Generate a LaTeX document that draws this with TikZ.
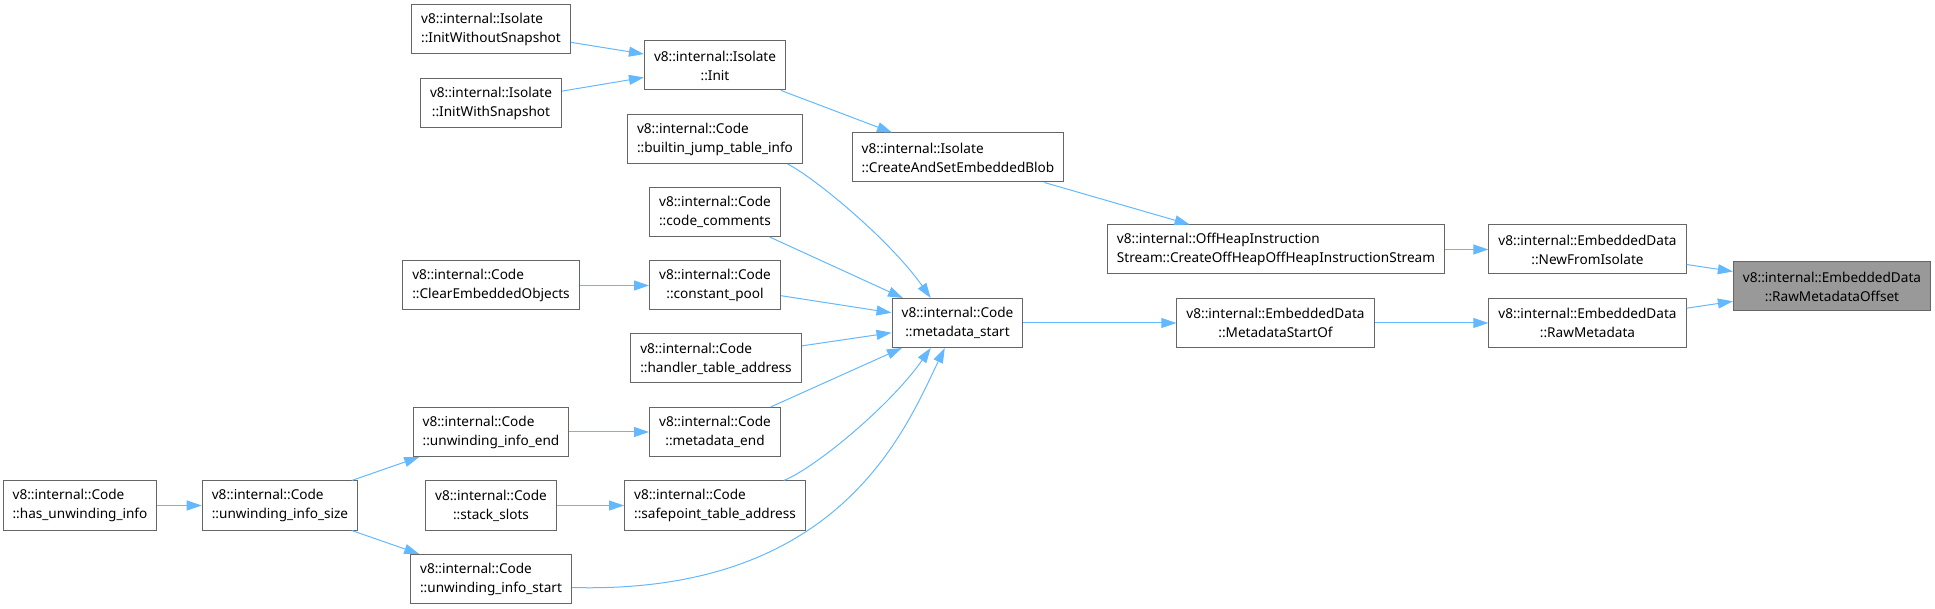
\documentclass[tikz,border=0pt]{standalone}
\usepackage{fontspec}
\setmainfont{Noto Sans}
\usetikzlibrary{arrows.meta}
\definecolor{edgeblue}{HTML}{63B8FF}
\definecolor{boxgray}{HTML}{666666}
\definecolor{focusgray}{HTML}{999999}

\begin{document}
\begin{tikzpicture}[x=0.5pt, y=-0.5pt,
    func/.style={draw=boxgray, fill=white, line width=0.5pt, rectangle,
                 minimum height=24.5pt, inner xsep=4.8pt, inner ysep=0pt,
                 font=\fontsize{6.8}{9.5}\selectfont},
    funcl/.style={func, align=left},
    funcc/.style={func, align=center},
    focus/.style={funcc, fill=focusgray},
    call/.style={draw=edgeblue, line width=0.5pt,
                 -{Triangle[length=7.5pt, width=5pt]}}]
  \useasboundingbox (0,0) rectangle (1935,609);

  % isolate init chain
  \node[funcl] (iws)  at (491,29.5) {v8::internal::Isolate\\::InitWithoutSnapshot};
  \node[funcc] (iwsn) at (491,103)  {v8::internal::Isolate\\::InitWithSnapshot};
  \node[funcc] (init) at (715,65.5) {v8::internal::Isolate\\::Init};
  \node[funcl] (casb) at (958,157.5) {v8::internal::Isolate\\::CreateAndSetEmbeddedBlob};

  % code accessors
  \node[funcl] (bjt)  at (715,139)   {v8::internal::Code\\::builtin\_jump\_table\_info};
  \node[funcc] (cc)   at (715,212)   {v8::internal::Code\\::code\_comments};
  \node[funcl] (ceo)  at (491,285.5) {v8::internal::Code\\::ClearEmbeddedObjects};
  \node[funcc] (cp)   at (715,285.5) {v8::internal::Code\\::constant\_pool};
  \node[funcl] (hta)  at (716,358.5) {v8::internal::Code\\::handler\_table\_address};
  \node[funcl] (uie)  at (491,432)   {v8::internal::Code\\::unwinding\_info\_end};
  \node[funcc] (me)   at (715,432)   {v8::internal::Code\\::metadata\_end};
  \node[funcl] (hui)  at (80,505.5)  {v8::internal::Code\\::has\_unwinding\_info};
  \node[funcl] (uisz) at (280,505.5) {v8::internal::Code\\::unwinding\_info\_size};
  \node[funcc] (ss)   at (491,505.5) {v8::internal::Code\\::stack\_slots};
  \node[funcl] (sta)  at (715,505.5) {v8::internal::Code\\::safepoint\_table\_address};
  \node[funcl] (uist) at (491,579)   {v8::internal::Code\\::unwinding\_info\_start};
  \node[funcc] (ms)   at (957.5,323) {v8::internal::Code\\::metadata\_start};

  % embedded data
  \node[funcl] (ohis) at (1276,249.5)   {v8::internal::OffHeapInstruction\\Stream::CreateOffHeapOffHeapInstructionStream};
  \node[funcc] (msof) at (1275.5,323)   {v8::internal::EmbeddedData\\::MetadataStartOf};
  \node[funcc] (nfi)  at (1587.5,249.5) {v8::internal::EmbeddedData\\::NewFromIsolate};
  \node[funcc] (rm)   at (1587.5,323)   {v8::internal::EmbeddedData\\::RawMetadata};
  \node[focus] (rmo)  at (1832,286.5)   {v8::internal::EmbeddedData\\::RawMetadataOffset};

  % calls
  \draw[call] (iws) -- (init);
  \draw[call] (iwsn) -- (init);
  \draw[call] (init) -- (casb);
  \draw[call] (casb) -- (ohis);
  \draw[call] (ohis) -- (nfi);
  \draw[call] (nfi) -- (rmo);
  \draw[call] (bjt.-19) .. controls (815,178) and (890,240) .. (ms.137);
  \draw[call] (cc) -- (ms);
  \draw[call] (ceo) -- (cp);
  \draw[call] (cp) -- (ms);
  \draw[call] (hta) -- (ms);
  \draw[call] (uie) -- (me);
  \draw[call] (me) -- (ms);
  \draw[call] (hui) -- (uisz);
  \draw[call] (uisz) -- (uie);
  \draw[call] (uisz) -- (uist);
  \draw[call] (ss) -- (sta);
  \draw[call] (sta.20) .. controls (815,468) and (890,406) .. (ms.-137);
  \draw[call] (uist.-6) .. controls (840,595) and (905,430) .. (ms.-117);
  \draw[call] (ms) -- (msof);
  \draw[call] (msof) -- (rm);
  \draw[call] (rm) -- (rmo);
\end{tikzpicture}
\end{document}
